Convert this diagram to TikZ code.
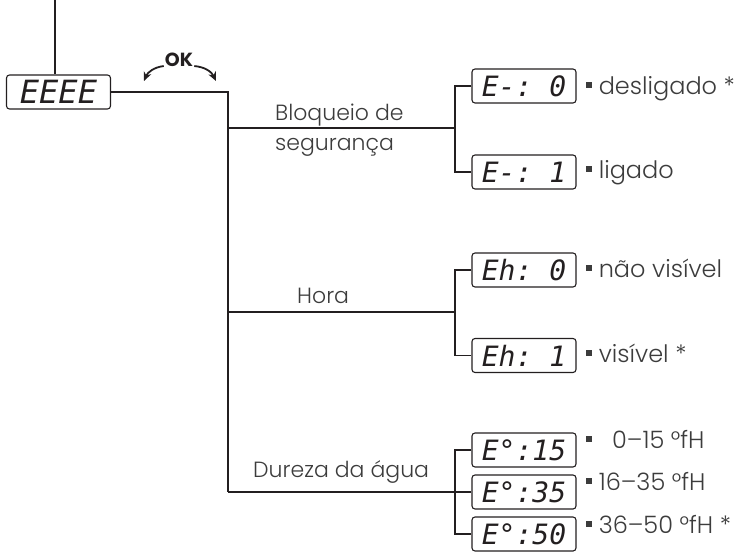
\documentclass[tikz,border=0pt]{standalone}
\usepackage{fontspec}
\usepackage{tikz}
\usetikzlibrary{arrows.meta,positioning,calc}
\setmainfont{Poppins Light}
\newfontfamily\lcdfont{DejaVu Sans Mono}
\newfontfamily\okfont{Poppins}
\definecolor{ink}{HTML}{231F20}
\definecolor{txt}{HTML}{3C3C3C}
\newcommand{\sq}{\rule[6pt]{6pt}{6pt}}
\newcommand{\lcdbox}[3]{
  \node[lcd] (#1) at #2 {#3};
}

\begin{document}
\begin{tikzpicture}[x=1pt,y=1pt,>={Stealth[length=9pt,width=8pt]},
  conn/.style={draw=ink,line width=1.8pt},
  lcd/.style={draw=ink,line width=1.1pt,rounded corners=3pt,minimum width=104pt,minimum height=34pt,inner sep=0pt,text=ink,font=\lcdfont\itshape\fontsize{28}{28}\selectfont},
  lbl/.style={anchor=base west,inner sep=0pt,text=txt,font=\fontsize{22}{26}\selectfont},
  opt/.style={anchor=base west,inner sep=0pt,text=txt,font=\fontsize{24}{28}\selectfont},
  okarr/.style={->,draw=ink,line width=1.8pt}]
  \useasboundingbox (0,0) rectangle (745,-552);

  \lcdbox{main}{(58.5,-92)}{\fontsize{32}{32}\selectfont EEEE}
  \lcdbox{e10}{(524,-86)}{E-:\ 0}
  \lcdbox{e11}{(524,-172)}{E-:\ 1}
  \lcdbox{e20}{(524,-270)}{Eh:\ 0}
  \lcdbox{e21}{(524,-355.5)}{Eh:\ 1}
  \lcdbox{e15}{(524,-450)}{E°:15}
  \lcdbox{e35}{(524,-492)}{E°:35}
  \lcdbox{e50}{(524,-534)}{E°:50}

  \node[text=ink,inner sep=0pt,font=\okfont\bfseries\fontsize{19}{19}\selectfont] (ok) at (179,-60) {OK};
  \coordinate (okl) at (144,-81);
  \coordinate (okr) at (216,-81);
  \draw[okarr] ([shift={(-1pt,1pt)}]ok.south west) to[bend right=30] (okl);
  \draw[okarr] ([shift={(1pt,1pt)}]ok.south east) to[bend left=30] (okr);

  \coordinate (top) at (55,0);
  \coordinate (t1) at (228,-128);
  \coordinate (t2) at (228,-312);
  \coordinate (t3) at (228,-492);
  \coordinate (b1) at (455,-128);
  \coordinate (b2) at (455,-312);
  \coordinate (b3) at (455,-492);
  \draw[conn] (top) -- (top |- main.north);
  \draw[conn] (main.east) -| (t3);
  \draw[conn] (t1) -- (b1);
  \draw[conn] (t2) -- (b2);
  \draw[conn] (t3) -- (b3);
  \draw[conn] (e10.west) -| (b1) |- (e11.west);
  \draw[conn] (e20.west) -| (b2) |- (e21.west);
  \draw[conn] (e15.west) -| (b3) |- (e50.west);
  \draw[conn] (b3) -- (e35.west);

  \node[lbl] (bloq) at (275,-120) {Bloqueio de};
  \node[lbl] (seg) at (275,-150) {segurança};
  \node[lbl] (hora) at (297,-303) {Hora};
  \node[lbl] (dur) at (253,-477) {Dureza da água};

  \node[opt] (o10) at (586,-94) {\sq\ desligado *};
  \node[opt] (o11) at (586,-178) {\sq\ ligado};
  \node[opt] (o20) at (586,-277) {\sq\ não visível};
  \node[opt] (o21) at (586,-362) {\sq\ visível *};
  \node[opt] (o15) at (586,-448) {\sq\hspace{20pt}0–15 °fH};
  \node[opt] (o35) at (586,-490) {\sq\ 16–35 °fH};
  \node[opt] (o50) at (586,-533) {\sq\ 36–50 °fH *};
\end{tikzpicture}
\end{document}
